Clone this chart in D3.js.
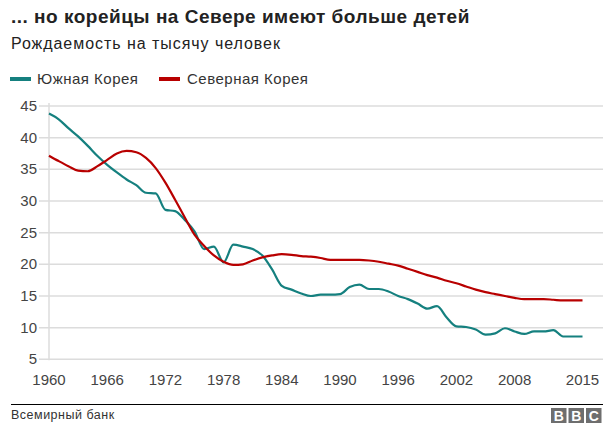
<!DOCTYPE html>
<html><head><meta charset="utf-8">
<script src="https://cdn.jsdelivr.net/npm/d3@7"></script>
<style>body{margin:0;background:#fff;font-family:"Liberation Sans",Arial,sans-serif;}</style>
</head><body>
<svg id="c" width="615" height="432"></svg>
<script>
const years = d3.range(1960, 2016);
const southKorea = [43.8,42.9,41.5,40.2,38.7,37.1,35.7,34.5,33.4,32.5,31.3,31.2,28.6,28.4,27.0,25.2,22.4,22.8,20.3,23.1,22.8,22.4,21.4,19.2,16.6,16.0,15.4,15.0,15.2,15.2,15.3,16.4,16.8,16.1,16.1,15.7,15.0,14.5,13.8,13.0,13.4,11.6,10.2,10.1,9.7,8.9,9.1,9.9,9.4,9.0,9.4,9.4,9.6,8.6,8.6,8.6];
const northKorea = [37.15,36.3,35.5,34.8,34.7,35.5,36.5,37.5,37.9,37.7,36.8,35.2,32.9,30.2,27.4,24.7,22.9,21.4,20.4,19.9,20.0,20.6,21.1,21.4,21.6,21.5,21.3,21.2,21.0,20.7,20.7,20.7,20.7,20.6,20.4,20.1,19.8,19.3,18.8,18.3,17.9,17.4,17.0,16.5,16.0,15.6,15.3,15.0,14.7,14.5,14.5,14.5,14.4,14.3,14.3,14.3];
const yTicks = [5,10,15,20,25,30,35,40,45];
const xTickYears = [1960,1966,1972,1978,1984,1990,1996,2002,2008,2015];
const seriesNames = ["Южная Корея","Северная Корея"];
const colors = ["#15807f","#b80000"];

const svg = d3.select("#c");
const x = d3.scaleLinear().domain([1960,2015]).range([49,582.5]);
const y = d3.scaleLinear().domain([5,45]).range([359.3,106]);

svg.append("text").attr("x",11).attr("y",22.5).attr("font-size",19).attr("font-weight","bold").attr("letter-spacing",0.5).attr("fill","#222").text("... но корейцы на Севере имеют больше детей");
svg.append("text").attr("x",11).attr("y",48.5).attr("font-size",16).attr("letter-spacing",0.95).attr("fill","#222").text("Рождаемость на тысячу человек");

// legend
const leg = [{x:10,tx:37},{x:159,tx:187}];
seriesNames.forEach((n,i)=>{
  svg.append("rect").attr("x",leg[i].x).attr("y",77).attr("width",21).attr("height",4).attr("fill",colors[i]);
  svg.append("text").attr("x",leg[i].tx).attr("y",84).attr("font-size",15).attr("letter-spacing",0.5).attr("fill","#333").text(n);
});

// grid
const g = svg.append("g");
g.selectAll("line.grid").data(yTicks).join("line")
  .attr("x1",39).attr("x2",603).attr("y1",d=>y(d)).attr("y2",d=>y(d))
  .attr("stroke","#dcdcdc").attr("stroke-width",1.5);
g.append("line").attr("x1",49).attr("x2",49).attr("y1",y(45)-3).attr("y2",y(5)+1).attr("stroke","#dcdcdc").attr("stroke-width",1.5);
g.selectAll("text.yl").data(yTicks).join("text")
  .attr("x",37).attr("y",d=>y(d)+5).attr("text-anchor","end").attr("font-size",15).attr("fill","#444").text(d=>d);
g.selectAll("text.xl").data(xTickYears).join("text")
  .attr("x",d=>x(d)).attr("y",385).attr("text-anchor","middle").attr("font-size",15).attr("fill","#444").text(d=>d);

const line = d3.line().x((d,i)=>x(years[i])).y(d=>y(d)).curve(d3.curveMonotoneX);
[southKorea,northKorea].forEach((s,i)=>{
  svg.append("path").attr("d",line(s)).attr("fill","none").attr("stroke",colors[i]).attr("stroke-width",2.2).attr("stroke-linejoin","round");
});

// footer
svg.append("line").attr("x1",11).attr("x2",603).attr("y1",404.5).attr("y2",404.5).attr("stroke","#000").attr("stroke-width",1.2);
svg.append("text").attr("x",11).attr("y",419).attr("font-size",12.5).attr("letter-spacing",0.5).attr("fill","#333").text("Всемирный банк");
["B","B","C"].forEach((c,i)=>{
  const bx = 551 + i*17.5;
  svg.append("rect").attr("x",bx).attr("y",408).attr("width",15.5).attr("height",15).attr("fill","#6e6e6e");
  svg.append("text").attr("x",bx+7.75).attr("y",421).attr("text-anchor","middle").attr("font-size",14).attr("font-weight","bold").attr("fill","#fff").text(c);
});
</script>
</body></html>
